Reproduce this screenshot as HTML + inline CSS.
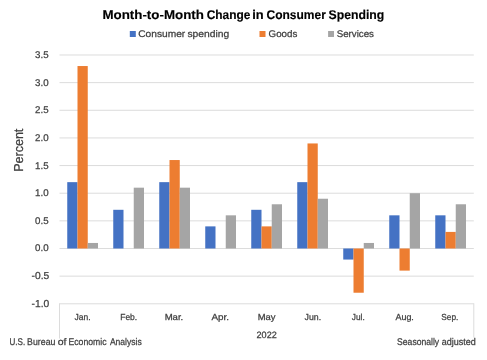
<!DOCTYPE html>
<html><head><meta charset="utf-8"><style>
html,body{margin:0;padding:0;background:#fff;width:487px;height:360px;overflow:hidden}
svg{display:block;filter:blur(0.3px)}
text{font-family:"Liberation Sans", sans-serif;text-rendering:geometricPrecision}
</style></head><body>
<svg width="487" height="360" viewBox="0 0 487 360">
<rect x="0" y="0" width="487" height="360" fill="#ffffff"/>
<rect x="59.5" y="54.49" width="414.30" height="1" fill="#DCDCDC"/>
<rect x="59.5" y="82.13" width="414.30" height="1" fill="#DCDCDC"/>
<rect x="59.5" y="109.78" width="414.30" height="1" fill="#DCDCDC"/>
<rect x="59.5" y="137.42" width="414.30" height="1" fill="#DCDCDC"/>
<rect x="59.5" y="165.06" width="414.30" height="1" fill="#DCDCDC"/>
<rect x="59.5" y="192.71" width="414.30" height="1" fill="#DCDCDC"/>
<rect x="59.5" y="220.35" width="414.30" height="1" fill="#DCDCDC"/>
<rect x="59.5" y="248.00" width="414.30" height="1" fill="#DCDCDC"/>
<rect x="59.5" y="275.64" width="414.30" height="1" fill="#DCDCDC"/>
<rect x="59.5" y="303.29" width="414.30" height="1" fill="#DCDCDC"/>
<rect x="67.25" y="182.15" width="10.25" height="66.35" fill="#4472C4"/>
<rect x="77.50" y="66.04" width="10.25" height="182.46" fill="#ED7D31"/>
<rect x="87.75" y="242.97" width="10.25" height="5.53" fill="#A5A5A5"/>
<rect x="113.25" y="209.80" width="10.25" height="38.70" fill="#4472C4"/>
<rect x="133.75" y="187.68" width="10.25" height="60.82" fill="#A5A5A5"/>
<rect x="159.25" y="182.15" width="10.25" height="66.35" fill="#4472C4"/>
<rect x="169.50" y="160.04" width="10.25" height="88.46" fill="#ED7D31"/>
<rect x="179.75" y="187.68" width="10.25" height="60.82" fill="#A5A5A5"/>
<rect x="205.25" y="226.38" width="10.25" height="22.12" fill="#4472C4"/>
<rect x="225.75" y="215.33" width="10.25" height="33.17" fill="#A5A5A5"/>
<rect x="251.25" y="209.80" width="10.25" height="38.70" fill="#4472C4"/>
<rect x="261.50" y="226.38" width="10.25" height="22.12" fill="#ED7D31"/>
<rect x="271.75" y="204.27" width="10.25" height="44.23" fill="#A5A5A5"/>
<rect x="297.25" y="182.15" width="10.25" height="66.35" fill="#4472C4"/>
<rect x="307.50" y="143.45" width="10.25" height="105.05" fill="#ED7D31"/>
<rect x="317.75" y="198.74" width="10.25" height="49.76" fill="#A5A5A5"/>
<rect x="343.25" y="248.50" width="10.25" height="11.06" fill="#4472C4"/>
<rect x="353.50" y="248.50" width="10.25" height="44.23" fill="#ED7D31"/>
<rect x="363.75" y="242.97" width="10.25" height="5.53" fill="#A5A5A5"/>
<rect x="389.25" y="215.33" width="10.25" height="33.17" fill="#4472C4"/>
<rect x="399.50" y="248.50" width="10.25" height="22.12" fill="#ED7D31"/>
<rect x="409.75" y="193.21" width="10.25" height="55.29" fill="#A5A5A5"/>
<rect x="435.25" y="215.33" width="10.25" height="33.17" fill="#4472C4"/>
<rect x="445.50" y="231.91" width="10.25" height="16.59" fill="#ED7D31"/>
<rect x="455.75" y="204.27" width="10.25" height="44.23" fill="#A5A5A5"/>
<rect x="59.0" y="303.29" width="1" height="35.21" fill="#DCDCDC"/>
<rect x="473.3" y="303.29" width="1" height="34.21" fill="#DCDCDC"/>
<rect x="129.8" y="31" width="6" height="6" fill="#4472C4"/>
<rect x="259.5" y="31" width="6" height="6" fill="#ED7D31"/>
<rect x="328.1" y="31" width="5.9" height="6" fill="#A5A5A5"/>
<text x="102.43" y="19.00" font-size="12.62" font-weight="bold" fill="#000000" stroke="#000000" stroke-width="0.15" textLength="101.49" lengthAdjust="spacingAndGlyphs">Month-to-Month</text>
<text x="206.68" y="19.00" font-size="12.62" font-weight="bold" fill="#000000" stroke="#000000" stroke-width="0.15" textLength="43.74" lengthAdjust="spacingAndGlyphs">Change</text>
<text x="252.23" y="19.00" font-size="12.62" font-weight="bold" fill="#000000" stroke="#000000" stroke-width="0.15" textLength="11.46" lengthAdjust="spacingAndGlyphs">in</text>
<text x="266.47" y="19.00" font-size="12.62" font-weight="bold" fill="#000000" stroke="#000000" stroke-width="0.15" textLength="59.33" lengthAdjust="spacingAndGlyphs">Consumer</text>
<text x="328.55" y="19.00" font-size="12.62" font-weight="bold" fill="#000000" stroke="#000000" stroke-width="0.15" textLength="55.71" lengthAdjust="spacingAndGlyphs">Spending</text>
<text x="138.27" y="37.00" font-size="9.65" font-weight="normal" fill="#404040" stroke="#404040" stroke-width="0.25" textLength="46.99" lengthAdjust="spacingAndGlyphs">Consumer</text>
<text x="187.40" y="37.00" font-size="9.65" font-weight="normal" fill="#404040" stroke="#404040" stroke-width="0.25" textLength="41.77" lengthAdjust="spacingAndGlyphs">spending</text>
<text x="268.57" y="37.00" font-size="9.65" font-weight="normal" fill="#404040" stroke="#404040" stroke-width="0.25" textLength="28.72" lengthAdjust="spacingAndGlyphs">Goods</text>
<text x="336.65" y="37.00" font-size="9.65" font-weight="normal" fill="#404040" stroke="#404040" stroke-width="0.25" textLength="37.34" lengthAdjust="spacingAndGlyphs">Services</text>
<text x="9.55" y="345.00" font-size="9.68" font-weight="normal" fill="#404040" stroke="#404040" stroke-width="0.25" textLength="15.65" lengthAdjust="spacingAndGlyphs">U.S.</text>
<text x="27.11" y="345.00" font-size="9.68" font-weight="normal" fill="#404040" stroke="#404040" stroke-width="0.25" textLength="28.36" lengthAdjust="spacingAndGlyphs">Bureau</text>
<text x="57.81" y="345.00" font-size="9.68" font-weight="normal" fill="#404040" stroke="#404040" stroke-width="0.25" textLength="8.74" lengthAdjust="spacingAndGlyphs">of</text>
<text x="68.48" y="345.00" font-size="9.68" font-weight="normal" fill="#404040" stroke="#404040" stroke-width="0.25" textLength="38.02" lengthAdjust="spacingAndGlyphs">Economic</text>
<text x="109.89" y="345.00" font-size="9.68" font-weight="normal" fill="#404040" stroke="#404040" stroke-width="0.25" textLength="31.87" lengthAdjust="spacingAndGlyphs">Analysis</text>
<text x="397.08" y="345.00" font-size="9.68" font-weight="normal" fill="#404040" stroke="#404040" stroke-width="0.25" textLength="42.11" lengthAdjust="spacingAndGlyphs">Seasonally</text>
<text x="441.68" y="345.00" font-size="9.68" font-weight="normal" fill="#404040" stroke="#404040" stroke-width="0.25" textLength="33.96" lengthAdjust="spacingAndGlyphs">adjusted</text>
<text x="74.51" y="320.00" font-size="8.81" font-weight="normal" fill="#404040" stroke="#404040" stroke-width="0.25" textLength="16.04" lengthAdjust="spacingAndGlyphs">Jan.</text>
<text x="120.19" y="320.00" font-size="8.81" font-weight="normal" fill="#404040" stroke="#404040" stroke-width="0.25" textLength="17.00" lengthAdjust="spacingAndGlyphs">Feb.</text>
<text x="164.65" y="320.00" font-size="8.81" font-weight="normal" fill="#404040" stroke="#404040" stroke-width="0.25" textLength="18.61" lengthAdjust="spacingAndGlyphs">Mar.</text>
<text x="211.49" y="320.00" font-size="8.81" font-weight="normal" fill="#404040" stroke="#404040" stroke-width="0.25" textLength="17.60" lengthAdjust="spacingAndGlyphs">Apr.</text>
<text x="257.73" y="320.00" font-size="8.81" font-weight="normal" fill="#404040" stroke="#404040" stroke-width="0.25" textLength="17.81" lengthAdjust="spacingAndGlyphs">May</text>
<text x="304.57" y="320.00" font-size="8.81" font-weight="normal" fill="#404040" stroke="#404040" stroke-width="0.25" textLength="16.56" lengthAdjust="spacingAndGlyphs">Jun.</text>
<text x="351.79" y="320.00" font-size="8.81" font-weight="normal" fill="#404040" stroke="#404040" stroke-width="0.25" textLength="12.94" lengthAdjust="spacingAndGlyphs">Jul.</text>
<text x="395.41" y="320.00" font-size="8.81" font-weight="normal" fill="#404040" stroke="#404040" stroke-width="0.25" textLength="18.47" lengthAdjust="spacingAndGlyphs">Aug.</text>
<text x="441.30" y="320.00" font-size="8.81" font-weight="normal" fill="#404040" stroke="#404040" stroke-width="0.25" textLength="17.07" lengthAdjust="spacingAndGlyphs">Sep.</text>
<text x="256.55" y="338.00" font-size="9.18" font-weight="normal" fill="#404040" stroke="#404040" stroke-width="0.25" textLength="20.19" lengthAdjust="spacingAndGlyphs">2022</text>
<text x="35.04" y="58.00" font-size="9.77" font-weight="normal" fill="#404040" stroke="#404040" stroke-width="0.25" textLength="13.50" lengthAdjust="spacingAndGlyphs">3.5</text>
<text x="35.04" y="86.00" font-size="9.77" font-weight="normal" fill="#404040" stroke="#404040" stroke-width="0.25" textLength="13.50" lengthAdjust="spacingAndGlyphs">3.0</text>
<text x="35.04" y="113.00" font-size="9.77" font-weight="normal" fill="#404040" stroke="#404040" stroke-width="0.25" textLength="13.50" lengthAdjust="spacingAndGlyphs">2.5</text>
<text x="35.04" y="141.00" font-size="9.77" font-weight="normal" fill="#404040" stroke="#404040" stroke-width="0.25" textLength="13.50" lengthAdjust="spacingAndGlyphs">2.0</text>
<text x="35.04" y="169.00" font-size="9.77" font-weight="normal" fill="#404040" stroke="#404040" stroke-width="0.25" textLength="13.50" lengthAdjust="spacingAndGlyphs">1.5</text>
<text x="35.04" y="196.00" font-size="9.77" font-weight="normal" fill="#404040" stroke="#404040" stroke-width="0.25" textLength="13.50" lengthAdjust="spacingAndGlyphs">1.0</text>
<text x="35.04" y="224.00" font-size="9.77" font-weight="normal" fill="#404040" stroke="#404040" stroke-width="0.25" textLength="13.50" lengthAdjust="spacingAndGlyphs">0.5</text>
<text x="35.04" y="251.00" font-size="9.77" font-weight="normal" fill="#404040" stroke="#404040" stroke-width="0.25" textLength="13.50" lengthAdjust="spacingAndGlyphs">0.0</text>
<text x="31.64" y="279.00" font-size="10.15" font-weight="normal" fill="#404040" stroke="#404040" stroke-width="0.25" textLength="17.69" lengthAdjust="spacingAndGlyphs">-0.5</text>
<text x="31.64" y="307.00" font-size="10.15" font-weight="normal" fill="#404040" stroke="#404040" stroke-width="0.25" textLength="17.69" lengthAdjust="spacingAndGlyphs">-1.0</text>
<text x="0.00" y="0.00" font-size="12.97" font-weight="normal" fill="#404040" stroke="#404040" stroke-width="0.25" textLength="43.17" lengthAdjust="spacingAndGlyphs" transform="translate(23.00,171.84) rotate(-90)">Percent</text>
</svg>
</body></html>
